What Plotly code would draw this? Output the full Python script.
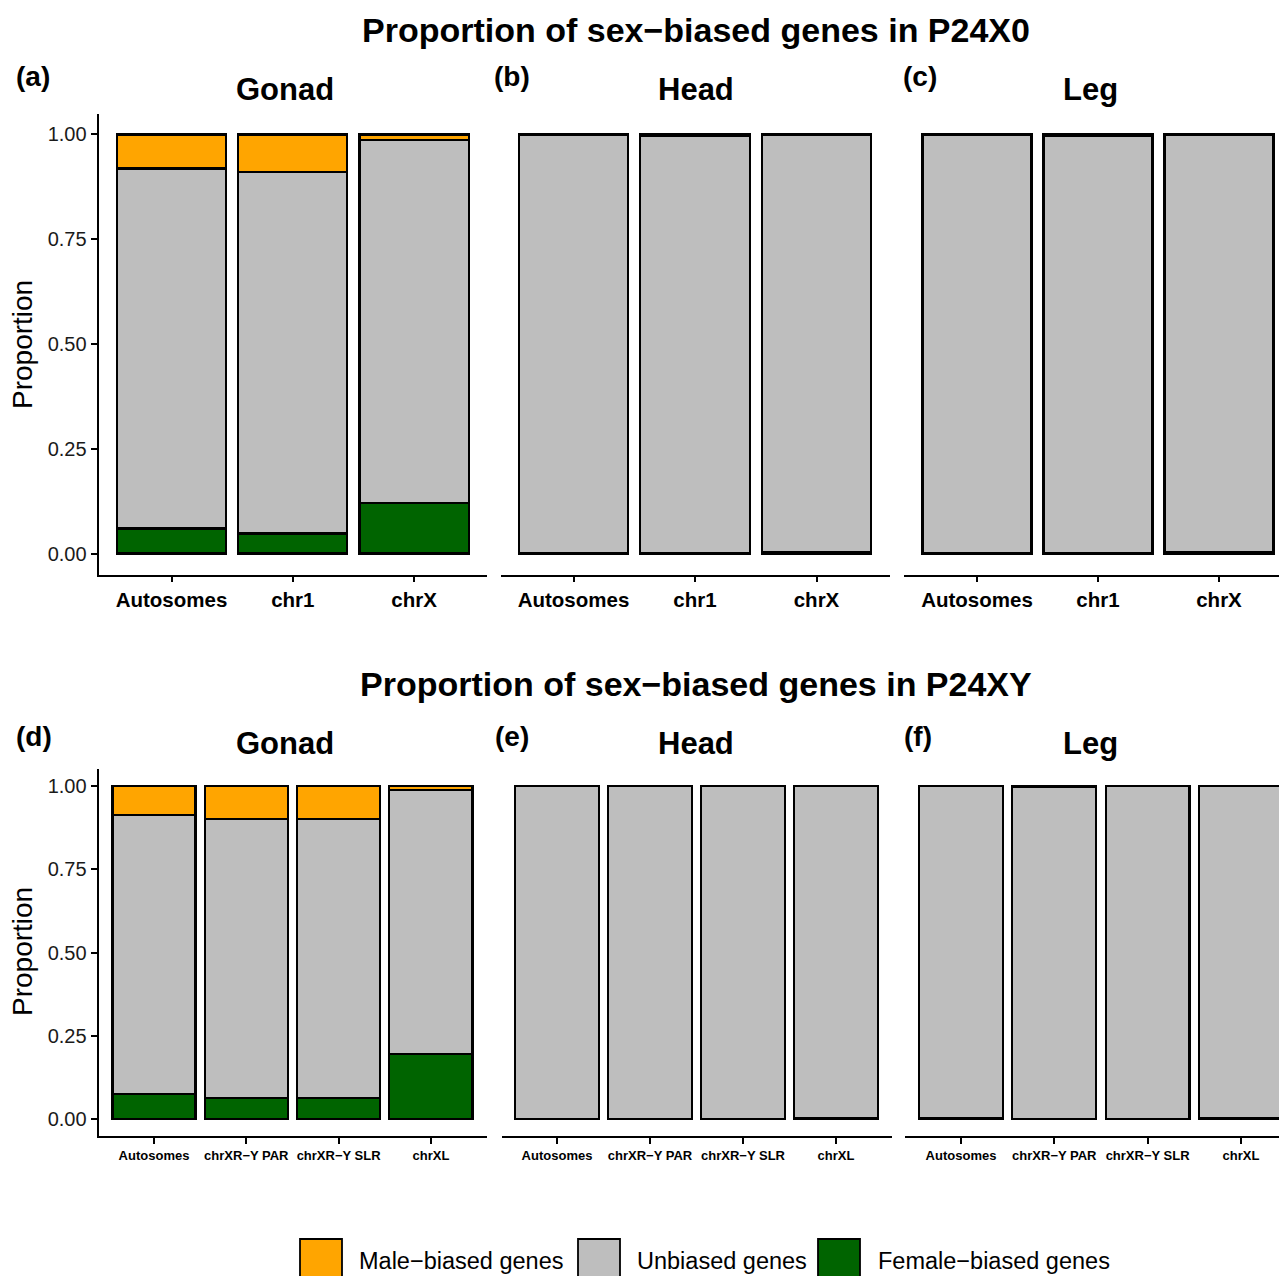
import plotly.graph_objects as go

# ---------------- data ----------------
cats_x0 = ["Autosomes", "chr1", "chrX"]
cats_xy = ["Autosomes", "chrXR\u2212Y PAR", "chrXR\u2212Y SLR", "chrXL"]
tissues = ["Gonad", "Head", "Leg"]

# P24X0
x0_female = {"Gonad": [0.060, 0.048, 0.121], "Head": [0.002, 0.001, 0.003], "Leg": [0.002, 0.001, 0.003]}
x0_unbiased = {"Gonad": [0.859, 0.862, 0.865], "Head": [0.997, 0.996, 0.996], "Leg": [0.997, 0.996, 0.996]}
x0_male = {"Gonad": [0.081, 0.090, 0.014], "Head": [0.001, 0.003, 0.001], "Leg": [0.001, 0.003, 0.001]}

# P24XY
xy_female = {"Gonad": [0.075, 0.063, 0.063, 0.195], "Head": [0.002, 0.001, 0.001, 0.003], "Leg": [0.003, 0.001, 0.001, 0.003]}
xy_unbiased = {"Gonad": [0.838, 0.838, 0.838, 0.793], "Head": [0.997, 0.998, 0.998, 0.996], "Leg": [0.996, 0.996, 0.998, 0.996]}
xy_male = {"Gonad": [0.087, 0.099, 0.099, 0.012], "Head": [0.001, 0.001, 0.001, 0.001], "Leg": [0.001, 0.003, 0.001, 0.001]}

series_names = ["Male\u2212biased genes", "Unbiased genes", "Female\u2212biased genes"]
colors = {"male": "#FFA500", "unbiased": "#BEBEBE", "female": "#006400"}
yticks = [0, 0.25, 0.5, 0.75, 1.0]
yticklabels = ["0.00", "0.25", "0.50", "0.75", "1.00"]

# ---------------- layout helpers ----------------
W, H = 1279, 1276
FONT = "Liberation Sans, Arial, Helvetica, sans-serif"


def PX(x):
    return x / W


def PY(y):
    return 1 - y / H


fig = go.Figure()

# panel geometry (pixels): left, right, first tick centre, tick spacing
rows = [
    dict(top=113.5, bottom=574.5, cats=cats_x0, fem=x0_female, unb=x0_unbiased, mal=x0_male, tick=20.5,
         panels=[(98.5, 487), (501, 889.5), (904, 1279)], centers=[(171.5, 121.3), (573.5, 121.5), (977, 121)]),
    dict(top=769, bottom=1136, cats=cats_xy, fem=xy_female, unb=xy_unbiased, mal=xy_male, tick=13,
         panels=[(98.5, 486.5), (502, 892), (905, 1279)], centers=[(154, 92.3), (557, 93.0), (961, 93.3)]),
]

idx = 0
for r, row in enumerate(rows):
    for p, tissue in enumerate(tissues):
        idx += 1
        xa = "x" if idx == 1 else f"x{idx}"
        ya = "y" if idx == 1 else f"y{idx}"
        left, right = row["panels"][p]
        c0, sp = row["centers"][p]
        rng_lo = (left - c0) / sp
        rng_hi = (right - c0) / sp
        for key, vals in (("female", row["fem"]), ("unbiased", row["unb"]), ("male", row["mal"])):
            fig.add_trace(go.Bar(
                x=row["cats"], y=vals[tissue], xaxis=xa, yaxis=ya, width=0.9,
                marker=dict(color=colors[key], line=dict(color="black", width=2.2)),
                showlegend=False, hoverinfo="skip",
            ))
        xkey = "xaxis" if idx == 1 else f"xaxis{idx}"
        ykey = "yaxis" if idx == 1 else f"yaxis{idx}"
        fig.layout[xkey] = dict(
            domain=[PX(left), PX(right)], anchor=ya, type="category",
            categoryorder="array", categoryarray=row["cats"],
            range=[rng_lo, rng_hi], showline=True, linecolor="black", linewidth=1.8,
            ticks="outside", ticklen=6, tickwidth=1.6, tickcolor="black",
            tickfont=dict(family=FONT, size=row["tick"], color="black", weight="bold"),
            showgrid=False, zeroline=False, fixedrange=True,
        )
        ydict = dict(
            domain=[PY(row["bottom"]), PY(row["top"])], anchor=xa, range=[-0.05, 1.05],
            showgrid=False, zeroline=False, fixedrange=True,
        )
        if p == 0:
            ydict.update(showline=True, linecolor="black", linewidth=1.8, ticks="outside", ticklen=6,
                         tickwidth=1.6, tickcolor="black", tickvals=yticks, ticktext=yticklabels,
                         tickfont=dict(family=FONT, size=20, color="#1a1a1a"))
        else:
            ydict.update(visible=False)
        fig.layout[ykey] = ydict

annotations = []
# main titles
for txt, y in (("Proportion of sex\u2212biased genes in P24X0", 30), ("Proportion of sex\u2212biased genes in P24XY", 684)):
    annotations.append(dict(text=txt, x=PX(696), y=PY(y), xref="paper", yref="paper", showarrow=False,
                            font=dict(family=FONT, size=34, color="black", weight="bold"),
                            xanchor="center", yanchor="middle"))
# facet titles and panel labels
labels = [["(a)", "(b)", "(c)"], ["(d)", "(e)", "(f)"]]
facet_x = [285, 696, 1090]
label_x = [[14, 492, 901], [14, 493, 902]]
for r, (fy, ly) in enumerate(((89, 77), (743, 736))):
    for p in range(3):
        annotations.append(dict(text=tissues[p], x=PX(facet_x[p]), y=PY(fy), xref="paper", yref="paper",
                                showarrow=False, font=dict(family=FONT, size=31, color="black", weight="bold"),
                                xanchor="center", yanchor="middle"))
        annotations.append(dict(text=labels[r][p], x=PX(label_x[r][p]), y=PY(ly), xref="paper", yref="paper",
                                showarrow=False, font=dict(family=FONT, size=28, color="black", weight="bold"),
                                xanchor="left", yanchor="middle"))
# y-axis titles
for yc in (345, 952):
    annotations.append(dict(text="Proportion", x=PX(22), y=PY(yc), xref="paper", yref="paper", showarrow=False,
                            textangle=-90, font=dict(family=FONT, size=28, color="black"),
                            xanchor="center", yanchor="middle"))

# legend (custom keys)
shapes = []
legend_keys = [(300, 342, colors["male"], 357), (578, 620, colors["unbiased"], 635), (818, 860, colors["female"], 876)]
for (x0, x1, col, tx), name in zip(legend_keys, series_names):
    shapes.append(dict(type="rect", xref="paper", yref="paper", x0=PX(x0), x1=PX(x1), y0=PY(1282), y1=PY(1239),
                       fillcolor=col, line=dict(color="black", width=1.8)))
    annotations.append(dict(text=name, x=PX(tx), y=PY(1261), xref="paper", yref="paper", showarrow=False,
                            font=dict(family=FONT, size=23.5, color="black"), xanchor="left", yanchor="middle"))

fig.update_layout(
    width=W, height=H, margin=dict(l=0, r=0, t=0, b=0),
    paper_bgcolor="white", plot_bgcolor="white", barmode="stack",
    showlegend=False, annotations=annotations, shapes=shapes,
    font=dict(family=FONT),
)

fig.write_html("out.html", include_plotlyjs=True, config={"displayModeBar": False})
